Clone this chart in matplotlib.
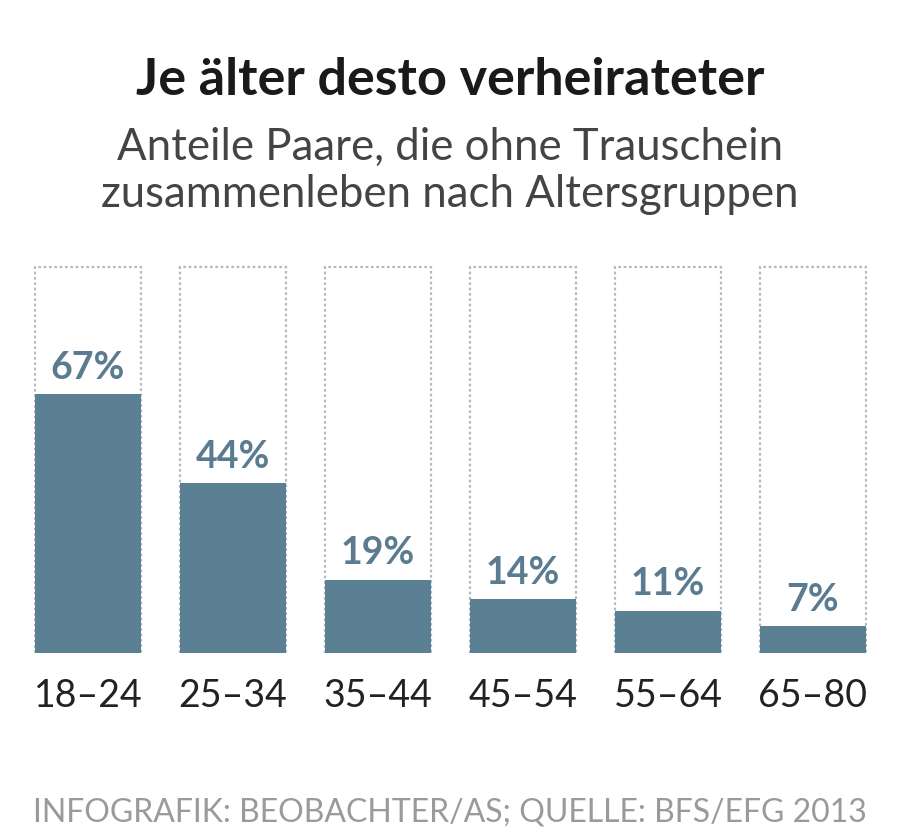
import matplotlib.pyplot as plt

# Daten
altersgruppen = ["18–24", "25–34", "35–44", "45–54", "55–64", "65–80"]
anteile = [67, 44, 19, 14, 11, 7]
maximum = [100] * len(altersgruppen)

blau = "#5b7f93"
text_blau = "#5a7b90"
rahmen = "#aebbc4"

plt.rcParams["font.family"] = ["Lato", "DejaVu Sans"]

fig = plt.figure(figsize=(9, 8.4), dpi=100)
ax = fig.add_axes([34 / 900, 1 - 653 / 840, 833 / 900, 388 / 840])

pos = list(range(len(altersgruppen)))
breite = 0.735

# Hintergrund-Boxen (gepunktet) und gefüllte Balken
ax.bar(pos, maximum, width=breite, facecolor="none", edgecolor=rahmen,
       linestyle=(0, (1.2, 1.2)), linewidth=1.6, zorder=1)
ax.bar(pos, anteile, width=breite, color=blau, zorder=2)

for x, v in zip(pos, anteile):
    ax.text(x, v + 2.4, f"{v}%", ha="center", va="bottom", fontsize=27,
            fontweight="bold", color=text_blau)

ax.set_xlim(-breite / 2 - 0.005, len(pos) - 1 + breite / 2 + 0.005)
ax.set_ylim(0, 100.5)
ax.set_xticks(pos)
ax.set_xticklabels(altersgruppen, fontsize=27, color="#222222")
ax.tick_params(axis="x", length=0, pad=18)
ax.set_yticks([])
for s in ax.spines.values():
    s.set_visible(False)

# === Texte ===
fig.text(0.5, 1 - 95 / 840, "Je älter desto verheirateter", ha="center",
         va="baseline", fontsize=37.5, fontweight="bold", color="#1a1a1a")
fig.text(0.5, 1 - 160 / 840, "Anteile Paare, die ohne Trauschein", ha="center",
         va="baseline", fontsize=31.5, color="#444444")
fig.text(0.5, 1 - 207 / 840, "zusammenleben nach Altersgruppen", ha="center",
         va="baseline", fontsize=31.5, color="#444444")
fig.text(0.5, 1 - 822 / 840, "INFOGRAFIK: BEOBACHTER/AS; QUELLE: BFS/EFG 2013",
         ha="center", va="baseline", fontsize=23, color="#9a9a9a")

fig.savefig("out.png", dpi=100, facecolor="white")
